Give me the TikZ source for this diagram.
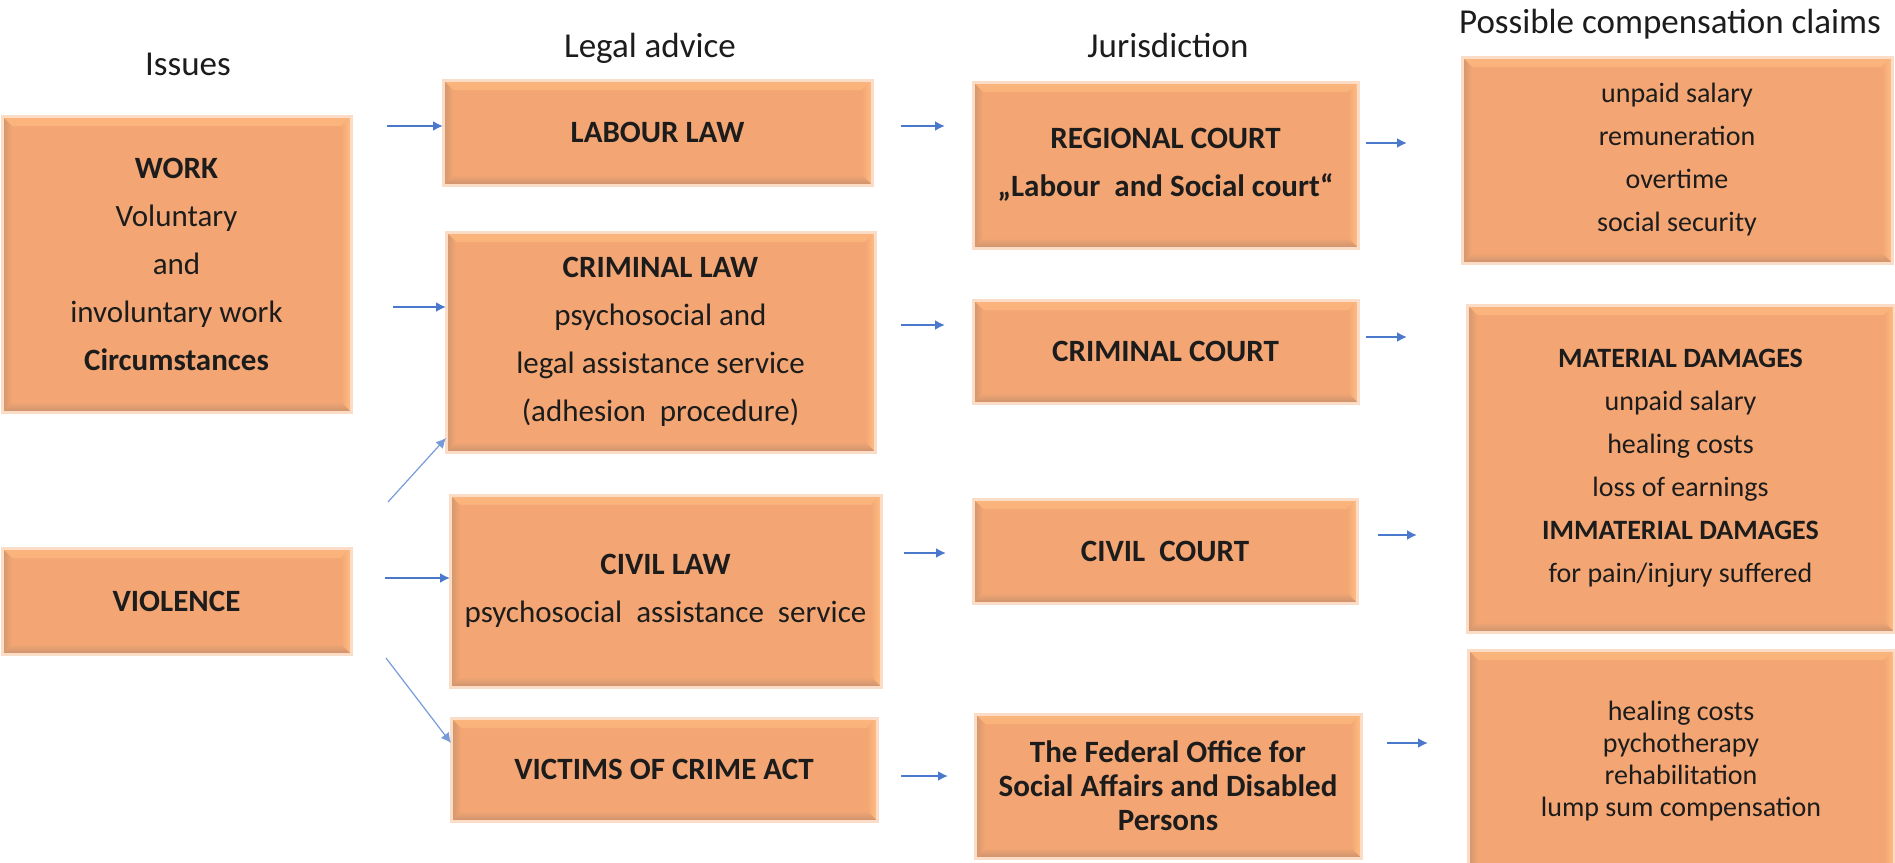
\documentclass[tikz,border=0pt]{standalone}
\usepackage{fontspec}
\setmainfont{Carlito}
\usetikzlibrary{arrows.meta}
\definecolor{boxfill}{HTML}{F3A673}
\definecolor{bevL}{HTML}{CF946E}
\definecolor{bevB}{HTML}{CB926E}
\definecolor{bevT}{HTML}{FBB47C}
\definecolor{bevR}{HTML}{FFBE84}
\definecolor{edgec}{HTML}{FBDCC6}
\definecolor{arrc}{HTML}{4A78CC}
\definecolor{txt}{HTML}{1C1C1C}
\def\bevw{5pt}
\tikzset{
  bevelbox/.style={rectangle, inner sep=0pt, outer sep=0pt, fill=boxfill, draw=edgec,
    line width=1.5pt, align=center, text=txt, font=\fontsize{15.5}{24}\selectfont,
    path picture={
      \shade[top color=bevT, bottom color=boxfill] (path picture bounding box.north west) -- (path picture bounding box.north east)
        -- ([xshift=-\bevw,yshift=-\bevw]path picture bounding box.north east)
        -- ([xshift=\bevw,yshift=-\bevw]path picture bounding box.north west) -- cycle;
      \shade[right color=bevR, left color=boxfill] (path picture bounding box.north east) -- (path picture bounding box.south east)
        -- ([xshift=-\bevw,yshift=\bevw]path picture bounding box.south east)
        -- ([xshift=-\bevw,yshift=-\bevw]path picture bounding box.north east) -- cycle;
      \shade[bottom color=bevB, top color=boxfill] (path picture bounding box.south west) -- (path picture bounding box.south east)
        -- ([xshift=-\bevw,yshift=\bevw]path picture bounding box.south east)
        -- ([xshift=\bevw,yshift=\bevw]path picture bounding box.south west) -- cycle;
      \shade[left color=bevL, right color=boxfill] (path picture bounding box.north west) -- (path picture bounding box.south west)
        -- ([xshift=\bevw,yshift=\bevw]path picture bounding box.south west)
        -- ([xshift=\bevw,yshift=-\bevw]path picture bounding box.north west) -- cycle;
    }},
  sz/.style 2 args={minimum width=#1*0.5pt, minimum height=#2*0.5pt},
  claimfont/.style={font=\fontsize{14}{21.5}\selectfont},
  arr/.style={draw=arrc, line width=1pt, -{Latex[length=5pt,width=5pt]}},
  thinarr/.style={arr, line width=0.6pt, draw=arrc!75},
  head/.style={font=\fontsize{17.5}{21}\selectfont, text=txt, anchor=base, inner sep=0pt}
}
\begin{document}
\begin{tikzpicture}[x=0.5pt,y=-0.5pt]
\useasboundingbox (0,0) rectangle (1895,862);

% headers
\node[head] (hIssues) at (188,75) {Issues};
\node[head] (hLegal) at (650,57) {Legal advice};
\node[head] (hJur) at (1168,57) {Jurisdiction};
\node[head] (hClaims) at (1670,33) {Possible compensation claims};

% column 1
\node[bevelbox, sz={349}{296}] (work) at (176.5,264)
  {\textbf{WORK}\\Voluntary\\and\\involuntary work\\\textbf{Circumstances}};
\node[bevelbox, sz={349}{106}] (violence) at (176.5,601) {\textbf{VIOLENCE}};

% column 2
\node[bevelbox, sz={429}{105}] (labour) at (657.5,132.5) {\textbf{LABOUR LAW}};
\node[bevelbox, sz={429}{220}] (crimlaw) at (660.5,342)
  {\textbf{CRIMINAL LAW}\\psychosocial and\\legal assistance service\\(adhesion\ \ procedure)};
\node[bevelbox, sz={431}{192}] (civillaw) at (665.5,591)
  {\textbf{CIVIL LAW}\\psychosocial\ \ assistance\ \ service};
\node[bevelbox, sz={426}{103}] (victims) at (664,769.5) {\textbf{VICTIMS OF CRIME ACT}};

% column 3
\node[bevelbox, sz={385}{166}] (regional) at (1165.5,165)
  {\textbf{REGIONAL COURT}\\\textbf{„Labour\ \ and Social court“}};
\node[bevelbox, sz={385}{103}] (crimcourt) at (1165.5,351.5) {\textbf{CRIMINAL COURT}};
\node[bevelbox, sz={384}{104}] (civilcourt) at (1165,551) {\textbf{CIVIL\ \ COURT}};
\node[bevelbox, sz={386}{144}, font=\fontsize{15.5}{17}\selectfont] (federal) at (1168,786)
  {\textbf{The Federal Office for}\\\textbf{Social Affairs and Disabled}\\\textbf{Persons}};

% column 4
\node[bevelbox, sz={430}{206}, claimfont] (claims1) at (1677,160)
  {unpaid salary\\remuneration\\overtime\\social security};
\node[bevelbox, sz={427}{327}, claimfont] (claims2) at (1680.5,468.5)
  {\textbf{MATERIAL DAMAGES}\\unpaid salary\\healing costs\\loss of earnings\\\textbf{IMMATERIAL DAMAGES}\\for pain/injury suffered};
\node[bevelbox, sz={426}{222}, font=\fontsize{14}{16}\selectfont] (claims3) at (1681,761)
  {healing costs\\pychotherapy\\rehabilitation\\lump sum compensation};

% arrows column 1 -> 2
\coordinate (s1) at (387,126);
\coordinate (s2) at (393,307);
\coordinate (s3) at (388,502);
\coordinate (s4) at (385,578);
\coordinate (s5) at (386,658);
\draw[arr] (s1) -- (labour.west |- s1);
\draw[arr] (s2) -- (crimlaw.west |- s2);
\draw[thinarr] (s3) -- ([yshift=7pt]crimlaw.south west);
\draw[arr] (s4) -- (civillaw.west |- s4);
\draw[thinarr] (s5) -- ([yshift=-12.5pt]victims.north west);

% arrows column 2 -> 3
\coordinate (b1s) at (901,126); \coordinate (b1e) at (945,126);
\coordinate (b2s) at (901,325); \coordinate (b2e) at (945,325);
\coordinate (b3s) at (904,553); \coordinate (b3e) at (946,553);
\coordinate (b4s) at (901,776); \coordinate (b4e) at (948,776);
\draw[arr] (b1s) -- (b1e);
\draw[arr] (b2s) -- (b2e);
\draw[arr] (b3s) -- (b3e);
\draw[arr] (b4s) -- (b4e);

% arrows column 3 -> 4
\coordinate (c1s) at (1366,143); \coordinate (c1e) at (1407,143);
\coordinate (c2s) at (1366,337); \coordinate (c2e) at (1407,337);
\coordinate (c3s) at (1378,535); \coordinate (c3e) at (1417,535);
\coordinate (c4s) at (1387,743); \coordinate (c4e) at (1428,743);
\draw[arr] (c1s) -- (c1e);
\draw[arr] (c2s) -- (c2e);
\draw[arr] (c3s) -- (c3e);
\draw[arr] (c4s) -- (c4e);
\end{tikzpicture}
\end{document}
